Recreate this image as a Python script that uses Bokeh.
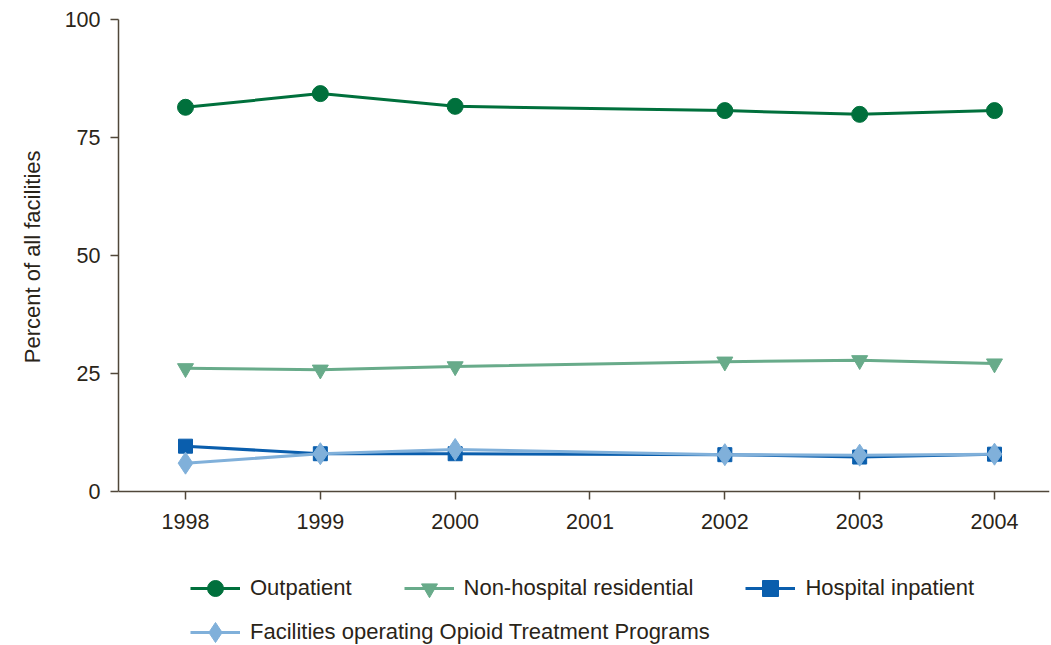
from bokeh.plotting import figure
from bokeh.models import Legend, LegendItem, Range1d, FixedTicker, Title
from bokeh.embed import file_html
from bokeh.resources import INLINE

years = [1998, 1999, 2000, 2002, 2003, 2004]
outpatient = [81.4, 84.3, 81.6, 80.7, 79.9, 80.7]
non_hospital_residential = [26.1, 25.8, 26.5, 27.5, 27.8, 27.1]
hospital_inpatient = [9.6, 8.0, 8.0, 7.8, 7.3, 7.9]
opioid_treatment = [6.0, 8.0, 8.9, 7.8, 7.7, 7.9]
x_ticks = [1998, 1999, 2000, 2001, 2002, 2003, 2004]
y_ticks = [0, 25, 50, 75, 100]

FONT = "Liberation Sans"
TEXT = "#2a2418"
AXIS = "#50473a"

# frame spans the whole lower area so the legend can sit inside it;
# axes are limited to the 0..100 data band
p = figure(width=1050, height=645, output_backend="svg", toolbar_location=None,
           x_range=Range1d(1997.503, 2004.408), y_range=Range1d(-32.63, 100),
           min_border_left=118, min_border_right=1, min_border_top=19,
           min_border_bottom=0)
p.outline_line_color = None
p.xgrid.grid_line_color = None
p.ygrid.grid_line_color = None
p.background_fill_color = "white"

for ax in (p.xaxis[0], p.yaxis[0]):
    ax.axis_line_color = AXIS
    ax.axis_line_width = 1.5
    ax.major_tick_line_color = AXIS
    ax.major_tick_line_width = 1.5
    ax.major_tick_out = 8
    ax.major_tick_in = 0
    ax.minor_tick_line_color = None
    ax.major_label_text_font = FONT
    ax.major_label_text_font_size = "21.5px"
    ax.major_label_text_color = TEXT

p.xaxis.ticker = FixedTicker(ticks=x_ticks)
p.xaxis.fixed_location = 0
p.yaxis.ticker = FixedTicker(ticks=y_ticks)
p.yaxis.bounds = (0, 100)
p.xaxis.major_label_standoff = 15
p.yaxis.major_label_standoff = 10

p.add_layout(Title(text="Percent of all facilities", align="right", offset=131,
                   standoff=34, text_font=FONT, text_font_size="22px",
                   text_font_style="normal", text_color=TEXT), "left")

series = [
    ("Hospital inpatient", hospital_inpatient, "#0a5ead", "square", 14),
    ("Facilities operating Opioid Treatment Programs", opioid_treatment, "#80b0da", "diamond", 22),
    ("Non-hospital residential", non_hospital_residential, "#68ab8a", "inverted_triangle", 16),
    ("Outpatient", outpatient, "#00703c", "circle", 16),
]
items = {}
for name, vals, color, marker, size in series:
    l = p.line(years, vals, line_color=color, line_width=3)
    s = p.scatter(years, vals, marker=marker, size=size, fill_color=color, line_color=color)
    items[name] = LegendItem(label=name, renderers=[l, s])

def make_legend(names, loc, gh):
    lg = Legend(items=[items[n] for n in names], location=loc, orientation="horizontal",
                padding=0, margin=0, spacing=52, glyph_width=50, glyph_height=gh,
                label_standoff=10, label_text_font=FONT, label_text_font_size="22px",
                label_text_color=TEXT, border_line_color=None, background_fill_alpha=0)
    return lg

p.add_layout(make_legend(["Outpatient", "Non-hospital residential", "Hospital inpatient"], (72, 37), 40))
p.add_layout(make_legend(["Facilities operating Opioid Treatment Programs"], (72, -12), 50))

open("out.html", "w").write(file_html(p, INLINE))
